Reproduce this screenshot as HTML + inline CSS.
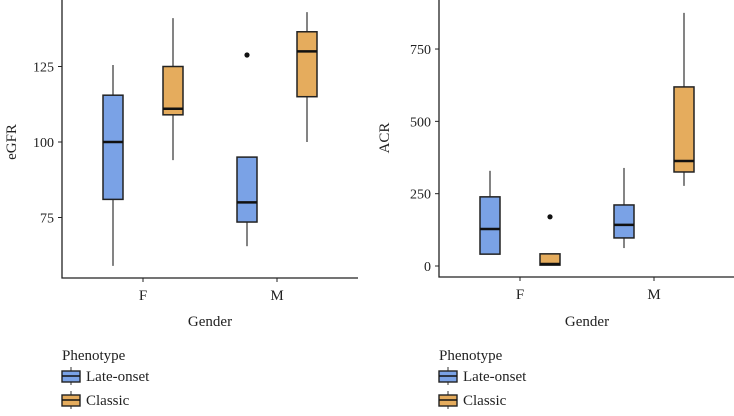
<!DOCTYPE html>
<html><head><meta charset="utf-8"><style>
body{margin:0;background:#fff;width:734px;height:411px;overflow:hidden}
svg text{font-family:"Liberation Serif",serif;fill:#222}
</style></head><body>
<svg id="c" width="734" height="411"></svg>
<script>
const categories=["F","M"];
const seriesNames=["Late-onset","Classic"];
const colors=["#7aa2e6","#e5ac5d"];
// [lowWhisker,q1,median,q3,highWhisker]
const egfrLate=[[59,81,100,115.5,125.5],[65.5,73.5,80,95,95]];
const egfrClassic=[[94,109,111,125,141],[100,115,130,136.5,143]];
const egfrOutliers=[[null,null],[128.8,null]];
const egfrTicks=[75,100,125];
const acrLate=[[41,41,128,239,329],[62,97,142,211,339]];
const acrClassic=[[3,3,7,42,42],[277,325,363,619,875]];
const acrOutliers=[[null,170],[null,null]];
const acrTicks=[0,250,500,750];
const NS="http://www.w3.org/2000/svg";
const svg=document.getElementById('c');
function el(t,a,p){const e=document.createElementNS(NS,t);for(const k in a)e.setAttribute(k,a[k]);(p||svg).appendChild(e);return e;}
function panel(o){
  const g=el('g',{});
  
  
  const y=v=>o.y0-(v-o.v0)*o.k;
  const x=i=>o.xF+i*o.dx;
  const ax=el('path',{d:`M${o.left} 0V${o.bottom}H${o.right}`,stroke:'#222','stroke-width':1.3,fill:'none'},g);
  
  o.ticks.forEach(t=>{
    el('line',{x1:o.left-4,x2:o.left,y1:y(t),y2:y(t),stroke:'#222'},g);
    const tx=el('text',{x:o.left-8,y:y(t)+5,'text-anchor':'end','font-size':14},g);tx.textContent=t;
    
  });
  categories.forEach((c,i)=>{
    el('line',{x1:x(i),x2:x(i),y1:o.bottom,y2:o.bottom+4,stroke:'#222'},g);
    const tx=el('text',{x:x(i),y:o.bottom+22,'text-anchor':'middle','font-size':15},g);tx.textContent=c;
    
    [o.late,o.classic].forEach((s,j)=>{
      const d=s[i],cx=x(i)+(j?30:-30),w=10;
      const b=el('g',{},g);
      
      
      el('line',{x1:cx,x2:cx,y1:y(d[0]),y2:y(d[4]),stroke:'#333','stroke-width':1.2},b);
      el('rect',{x:cx-w,y:y(d[3]),width:2*w,height:y(d[1])-y(d[3]),fill:colors[j],stroke:'#222','stroke-width':1.5},b);
      el('line',{x1:cx-w,x2:cx+w,y1:y(d[2]),y2:y(d[2]),stroke:'#111','stroke-width':2.5},b);
      const ov=o.out[i][j];
      if(ov!=null){const p=el('circle',{cx:cx,cy:y(ov),r:2.6,fill:'#111'},b);}
    });
  });
  const yt=el('text',{transform:`translate(${o.ylx},${o.yly}) rotate(-90)`,'text-anchor':'middle','font-size':15},g);yt.textContent=o.ylab;
  
  const xt=el('text',{x:(x(0)+x(1))/2,y:326,'text-anchor':'middle','font-size':15},g);xt.textContent='Gender';
  
  const lg=el('g',{},g);
  const lt=el('text',{x:o.left,y:360,'font-size':15},lg);lt.textContent='Phenotype';
  seriesNames.forEach((n,j)=>{
    const yy=376+j*24,e=el('g',{},lg);
    
    
    el('line',{x1:o.left+9,x2:o.left+9,y1:yy-9,y2:yy+9,stroke:'#333'},e);
    el('rect',{x:o.left,y:yy-5,width:18,height:11,fill:colors[j],stroke:'#222','stroke-width':1.4},e);
    el('line',{x1:o.left,x2:o.left+18,y1:yy,y2:yy,stroke:'#111','stroke-width':1.6},e);
    const t=el('text',{x:o.left+24,y:yy+5,'font-size':15},e);t.textContent=n;
  });
}
panel({name:'egfr-panel',left:62,right:358,bottom:278,y0:142,v0:100,k:3.02,xF:143,dx:134,ticks:egfrTicks,late:egfrLate,classic:egfrClassic,out:egfrOutliers,ylab:'eGFR',ylx:16,yly:142});
panel({name:'acr-panel',left:439,right:734,bottom:277,y0:266,v0:0,k:0.2893,xF:520,dx:134,ticks:acrTicks,late:acrLate,classic:acrClassic,out:acrOutliers,ylab:'ACR',ylx:389,yly:138});
</script>
</body></html>
